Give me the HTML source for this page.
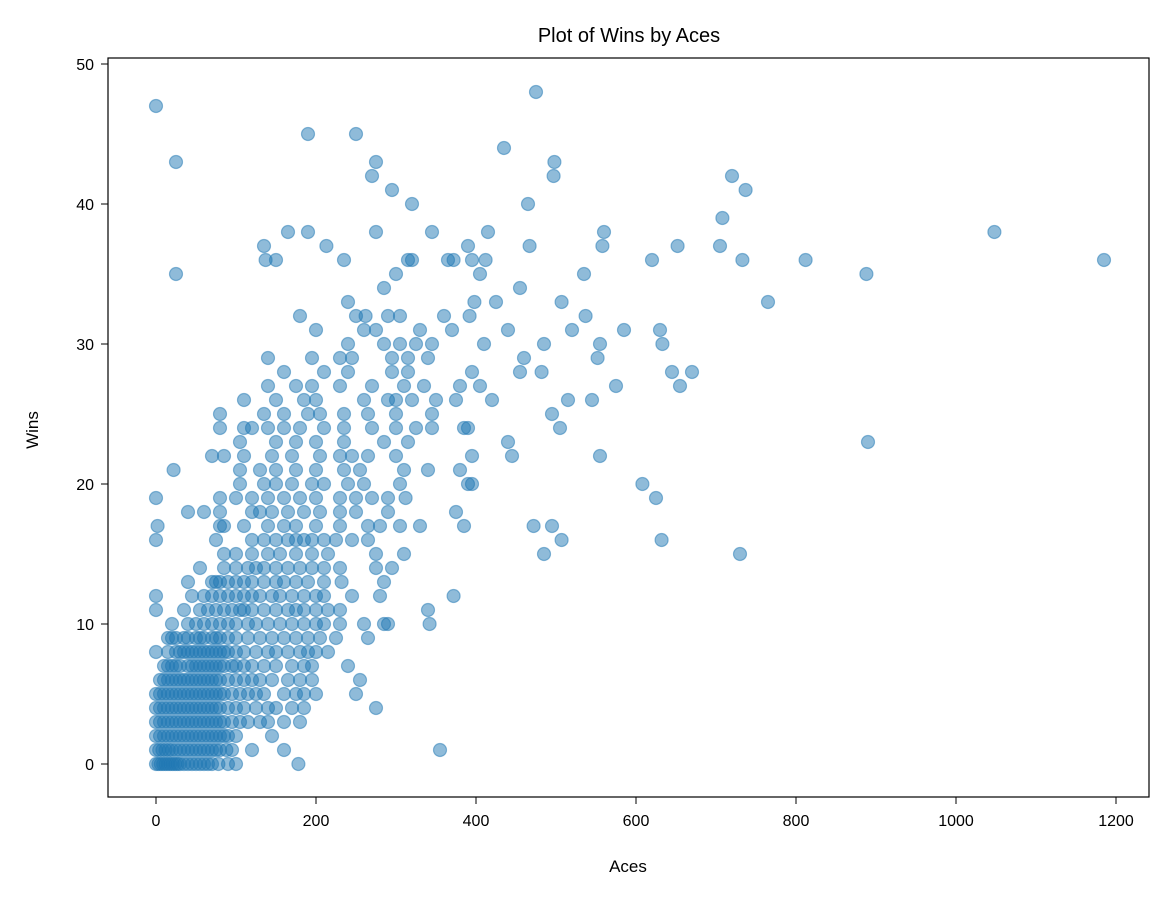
<!DOCTYPE html>
<html><head><meta charset="utf-8"><style>
html,body{margin:0;padding:0;background:#fff;}
svg text{font-family:"Liberation Sans","DejaVu Sans",sans-serif;fill:#000;}
</style></head><body>
<svg id="chart" width="1169" height="898">
<text x="629" y="42" font-size="20" text-anchor="middle">Plot of Wins by Aces</text>
<g id="marks"></g>
<g id="axes"></g>
<rect x="108" y="58" width="1041" height="739" fill="none" stroke="#000" stroke-width="1.2"/>
<text x="628" y="872" font-size="17" text-anchor="middle">Aces</text>
<text x="38" y="430" font-size="17" text-anchor="middle" transform="rotate(-90 38 430)">Wins</text>
</svg>
<script>
const xTicks=[0,200,400,600,800,1000,1200];
const yTicks=[0,10,20,30,40,50];
const winsRows=[0,1,2,3,4,5,6,7,8,9,10,11,12,13,14,15,16,17,18,19,20,21,22,23,24,25,26,27,28,29,30,31,32,33];
const acesByRow=[
[0,3,6,9,12,15,18,21,24,27,30,35,40,45,50,55,60,65,70,78,90,100,178],
[0,4,8,12,16,20,25,30,35,40,45,50,55,60,65,70,75,80,88,95,120,160,355],
[0,5,10,15,20,25,30,35,40,45,50,55,60,65,70,75,80,85,90,100,145],
[0,5,10,15,20,25,30,35,40,45,50,55,60,65,70,75,80,85,95,105,115,130,140,160,180],
[0,5,10,15,20,25,30,35,40,45,50,55,60,65,70,75,80,90,100,110,125,140,150,170,185,275],
[0,5,10,15,20,25,30,35,40,45,50,55,60,65,70,75,80,85,95,105,115,125,135,160,175,185,200,250],
[5,10,15,20,25,30,35,40,45,50,55,60,65,70,75,80,90,100,110,120,130,145,165,180,195,255],
[10,15,20,25,30,40,45,50,55,60,65,70,75,80,85,95,100,110,120,135,150,170,185,195,240],
[0,15,25,30,35,40,45,50,55,60,65,70,75,80,85,90,100,110,125,140,150,165,180,190,200,215],
[15,20,25,35,40,50,55,60,70,75,80,90,100,115,130,145,160,175,190,205,225,265],
[20,40,50,60,70,80,90,100,115,125,140,155,170,185,200,210,230,260,285,290,342],
[0,35,55,65,75,85,95,105,110,120,135,150,165,175,185,200,215,230,340],
[0,45,60,70,80,90,100,110,120,130,145,155,170,185,200,210,245,280,372],
[40,70,75,80,90,100,110,120,135,150,160,175,190,210,232,285],
[55,85,100,115,125,135,150,165,180,195,210,230,275,295],
[85,100,120,140,155,175,195,215,275,310,485,730],
[0,75,120,135,150,165,175,185,195,210,225,245,265,632,507],
[2,80,85,110,140,160,175,200,230,265,280,305,330,385,472,495],
[40,60,80,120,130,145,165,185,205,230,250,290,375],
[0,80,100,120,140,160,180,200,230,250,270,290,312,625],
[105,135,150,170,195,210,240,260,305,390,395,608],
[22,105,130,150,175,200,235,255,310,340,380],
[70,85,110,145,170,205,230,245,265,300,395,445,555],
[105,150,175,200,235,285,315,440,890],
[80,110,120,140,160,180,210,235,270,300,325,345,385,390,505],
[80,135,160,190,205,235,265,300,345,495],
[110,150,185,200,260,290,300,320,350,375,420,515,545],
[140,175,195,230,270,310,335,380,405,575,655],
[160,210,240,295,315,395,455,482,645,670],
[140,195,230,245,295,315,340,460,552],
[240,285,305,325,345,410,485,555,633],
[200,260,275,330,370,440,520,585,630],
[180,250,262,290,305,360,392,537],
[240,398,425,507,765]
];
const outlierAces=[0,25,25,190,250,270,275,295,320,275,190,165,213,135,137,150,235,435,475,498,497,465,720,737,708,1048,1185,812,888,733,705,652,620,560,558,535,467,455,412,415,405,395,390,372,365,345,320,315,300,285];
const outlierWins=[47,43,35,45,45,42,43,41,40,38,38,38,37,37,36,36,36,44,48,43,42,40,42,41,39,38,36,36,35,36,37,37,36,38,37,35,37,34,36,38,35,36,37,36,36,38,36,36,35,34];
const X0=156,XS=0.8,Y0=764,YS=14;
const xs=v=>X0+v*XS, ys=v=>Y0-v*YS;
const NS="http://www.w3.org/2000/svg";
const marks=document.getElementById('marks');
function dot(a,w){
  const c=document.createElementNS(NS,'circle');
  c.setAttribute('cx',xs(a));c.setAttribute('cy',ys(w));c.setAttribute('r',6.5);
  c.setAttribute('fill','rgba(31,119,180,0.5)');c.setAttribute('stroke','rgba(31,119,180,0.5)');c.setAttribute('stroke-width','1.2');
  
  
  marks.appendChild(c);
}
winsRows.forEach((w,i)=>acesByRow[i].forEach(a=>dot(a,w)));
outlierAces.forEach((a,i)=>dot(a,outlierWins[i]));
const axes=document.getElementById('axes');
xTicks.forEach(t=>{
  const l=document.createElementNS(NS,'line');
  l.setAttribute('x1',xs(t));l.setAttribute('x2',xs(t));l.setAttribute('y1',797);l.setAttribute('y2',804);l.setAttribute('stroke','#000');
  
  
  axes.appendChild(l);
  const tx=document.createElementNS(NS,'text');
  tx.setAttribute('x',xs(t));tx.setAttribute('y',826);tx.setAttribute('font-size','16');tx.setAttribute('text-anchor','middle');
  tx.textContent=t;
  
  
  axes.appendChild(tx);
});
yTicks.forEach(t=>{
  const l=document.createElementNS(NS,'line');
  l.setAttribute('x1',101);l.setAttribute('x2',108);l.setAttribute('y1',ys(t));l.setAttribute('y2',ys(t));l.setAttribute('stroke','#000');
  
  
  axes.appendChild(l);
  const tx=document.createElementNS(NS,'text');
  tx.setAttribute('x',94);tx.setAttribute('y',ys(t)+6);tx.setAttribute('font-size','16');tx.setAttribute('text-anchor','end');
  tx.textContent=t;
  
  
  axes.appendChild(tx);
});
</script>
</body></html>
